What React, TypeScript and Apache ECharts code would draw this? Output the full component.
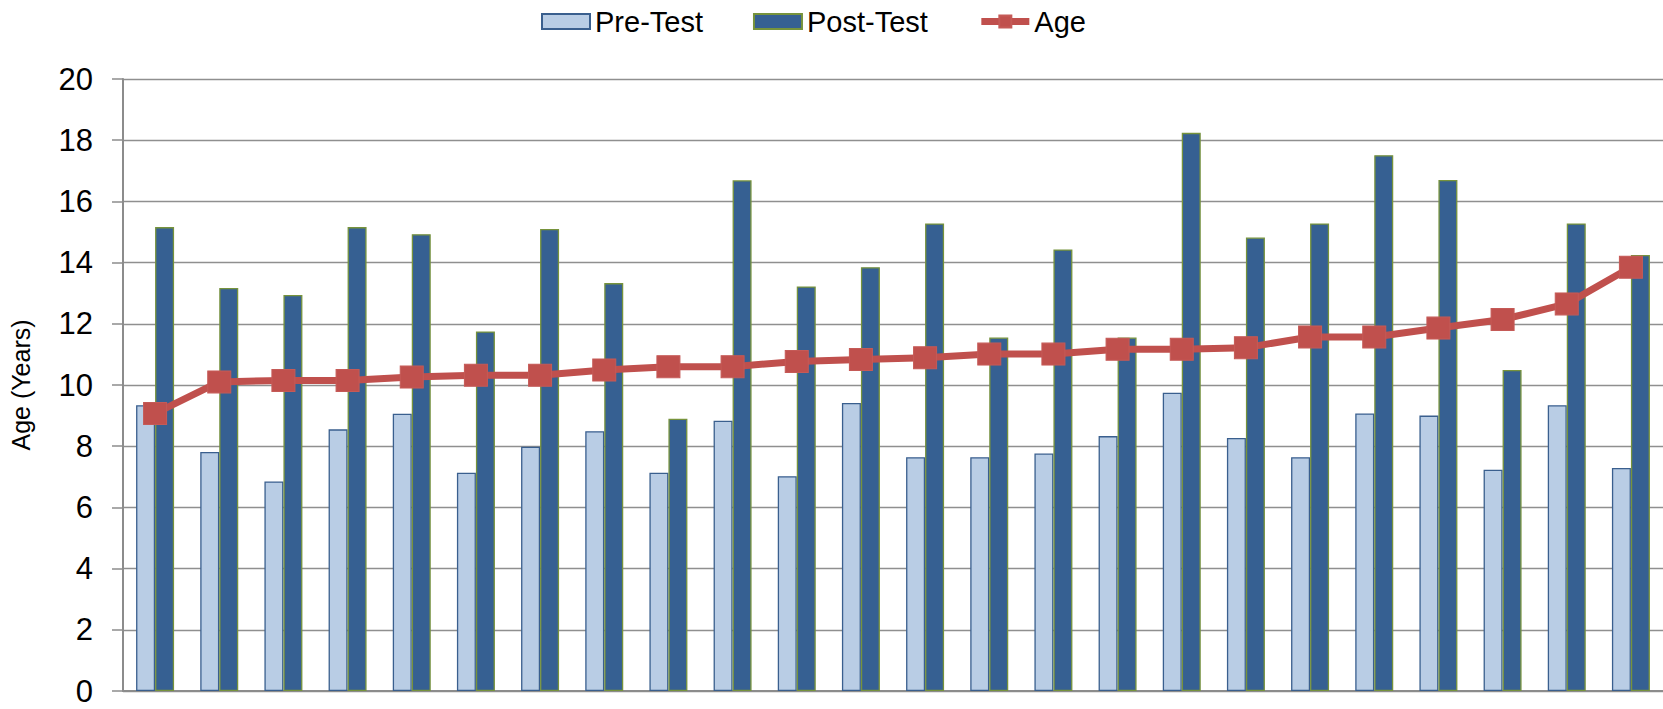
import React, { useEffect, useRef } from "react";
import * as echarts from "echarts";

const categories = Array.from({ length: 24 }, (_, i) => String(i + 1));
const preTest = [9.34, 7.81, 6.85, 8.55, 9.06, 7.13, 7.98, 8.49, 7.13, 8.83, 7.02, 9.41, 7.64, 7.64, 7.76, 8.33, 9.75, 8.27, 7.64, 9.07, 9.0, 7.23, 9.34, 7.29];
const postTest = [15.16, 13.17, 12.94, 15.16, 14.93, 11.75, 15.1, 13.33, 8.9, 16.69, 13.22, 13.85, 15.28, 11.55, 14.43, 11.55, 18.24, 14.82, 15.28, 17.51, 16.7, 10.49, 15.28, 14.25];
const age = [9.07, 10.1, 10.15, 10.15, 10.26, 10.32, 10.32, 10.49, 10.6, 10.6, 10.77, 10.83, 10.89, 11.01, 11.01, 11.17, 11.17, 11.22, 11.57, 11.57, 11.86, 12.14, 12.65, 13.85];

const FONT = "'Liberation Sans', Arial, sans-serif";

export default function App() {
  const ref = useRef<HTMLDivElement>(null);
  useEffect(() => {
    if (!ref.current) return;
    const chart = echarts.init(ref.current, undefined, { renderer: "svg" });
    chart.setOption({
      animation: false,
      backgroundColor: "#ffffff",
      textStyle: { fontFamily: FONT },
      legend: {
        top: 2,
        left: 536,
        itemWidth: 48,
        itemHeight: 15,
        itemGap: 50,
        textStyle: { fontSize: 29, color: "#000", fontFamily: FONT },
        data: [
          { name: "Pre-Test", icon: "rect" },
          { name: "Post-Test", icon: "rect" },
          { name: "Age", lineStyle: { width: 7, color: "#C0504D" } },
        ],
      },
      grid: { left: 120, right: -2, top: 79, bottom: 18, containLabel: false },
      xAxis: {
        type: "category",
        data: categories,
        axisLine: { show: true, lineStyle: { color: "#8c8c8c", width: 2 } },
        axisTick: { show: false },
        axisLabel: { show: false },
        splitLine: { show: false },
      },
      yAxis: {
        type: "value",
        min: 0,
        max: 20,
        interval: 2,
        name: "Age (Years)",
        nameLocation: "middle",
        nameRotate: 90,
        nameGap: 90,
        nameTextStyle: { fontSize: 25, color: "#000", fontFamily: FONT },
        axisLine: { show: true, lineStyle: { color: "#8c8c8c", width: 2 } },
        axisTick: { show: true, length: 11, lineStyle: { color: "#8c8c8c", width: 1.5 } },
        axisLabel: { fontSize: 31, color: "#000", margin: 30, fontFamily: FONT },
        splitLine: { show: true, lineStyle: { color: "#8f8f8f", width: 1.4 } },
      },
      series: [
        {
          name: "Pre-Test",
          type: "bar",
          data: preTest,
          barWidth: 19,
          barGap: "0%",
          itemStyle: { color: "#B9CDE5", borderColor: "#3A5F8E", borderWidth: 1.3 },
        },
        {
          name: "Post-Test",
          type: "bar",
          data: postTest,
          barWidth: 19,
          barGap: "0%",
          itemStyle: { color: "#366092", borderColor: "#77933C", borderWidth: 1.3 },
        },
        {
          name: "Age",
          type: "line",
          data: age,
          symbol: "rect",
          symbolSize: [23, 22],
          z: 5,
          lineStyle: { color: "#C0504D", width: 7 },
          itemStyle: { color: "#C0504D", borderColor: "#C55a57", borderWidth: 1 },
        },
      ],
    });
    return () => chart.dispose();
  }, []);
  return (
    <div
      ref={ref}
      style={{ position: "absolute", left: 0, top: 0, width: 1663, height: 709 }}
    />
  );
}
